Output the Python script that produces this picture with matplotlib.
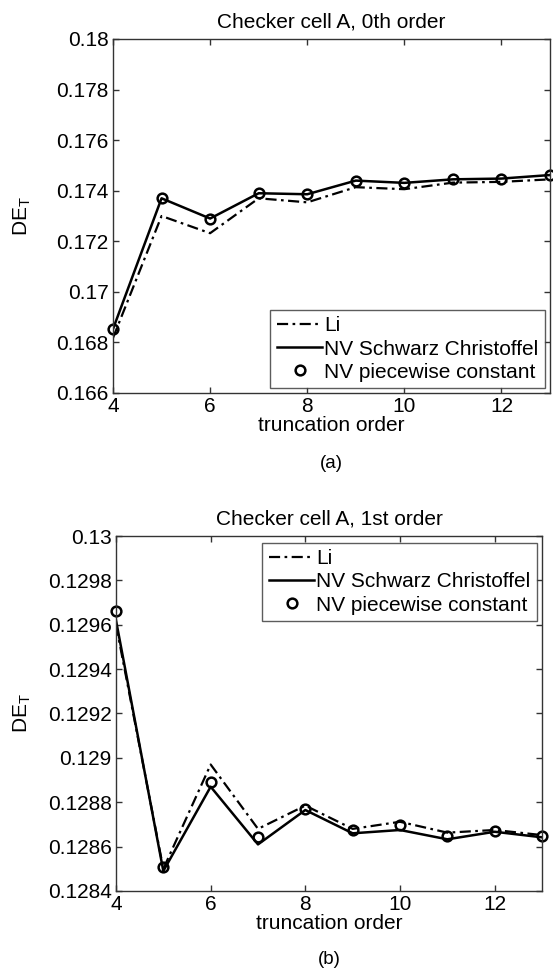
import matplotlib
matplotlib.use("Agg")
import matplotlib.pyplot as plt

plt.rcParams['font.family'] = ['Liberation Sans', 'DejaVu Sans']
plt.rcParams['mathtext.fontset'] = 'custom'
plt.rcParams['mathtext.rm'] = 'Liberation Sans'
plt.rcParams['mathtext.it'] = 'Liberation Sans'

orders = [4, 5, 6, 7, 8, 9, 10, 11, 12, 13]

# (a) 0th order
li_a = [0.16818, 0.17300, 0.17232, 0.17370, 0.17354, 0.17414, 0.17406, 0.17432, 0.17435, 0.17445]
sc_a = [0.16853, 0.17370, 0.17290, 0.17390, 0.17386, 0.17440, 0.17431, 0.17445, 0.17448, 0.17462]
pc_a = [0.16853, 0.17370, 0.17290, 0.17390, 0.17386, 0.17440, 0.17431, 0.17445, 0.17448, 0.17462]

# (b) 1st order
li_b = [0.12960, 0.12850, 0.12897, 0.12868, 0.128785, 0.12868, 0.128712, 0.128663, 0.128675, 0.128652]
sc_b = [0.12962, 0.12849, 0.12887, 0.12861, 0.128765, 0.12866, 0.128675, 0.128633, 0.128667, 0.128642]
pc_b = [0.129662, 0.12851, 0.128893, 0.128642, 0.12877, 0.128675, 0.128698, 0.128648, 0.128672, 0.128648]

yt_a = [0.166, 0.168, 0.17, 0.172, 0.174, 0.176, 0.178, 0.18]
yl_a = ['0.166', '0.168', '0.17', '0.172', '0.174', '0.176', '0.178', '0.18']
yt_b = [0.1284, 0.1286, 0.1288, 0.129, 0.1292, 0.1294, 0.1296, 0.1298, 0.13]
yl_b = ['0.1284', '0.1286', '0.1288', '0.129', '0.1292', '0.1294', '0.1296', '0.1298', '0.13']
xt = [4, 6, 8, 10, 12]

labels = ['Li', 'NV Schwarz Christoffel', 'NV piecewise constant']
titles = ['Checker cell A, 0th order', 'Checker cell A, 1st order']

FS = 15
W, H = 553, 973
fig = plt.figure(figsize=(W / 100, H / 100), dpi=100)

def box(l, t, r, b):
    return [l / W, 1 - b / H, (r - l) / W, (b - t) / H]

ax_a = fig.add_axes(box(113, 39, 550, 393))
ax_b = fig.add_axes(box(116, 536, 542, 891))

def draw(ax, li, sc, pc, yt, yl, title, loc, anchor, ylab_x):
    ax.plot(orders, li, color='black', lw=1.6, ls=(0, (5, 2, 1.2, 2)), label=labels[0])
    ax.plot(orders, sc, color='black', lw=1.8, ls='-', label=labels[1])
    ax.plot(orders, pc, ls='none', marker='o', ms=7, mfc='none', mec='black', mew=1.8,
            label=labels[2], clip_on=False)
    ax.set_xlim(4, 13)
    ax.set_ylim(yt[0], yt[-1])
    ax.set_xticks(xt)
    ax.set_xticklabels([str(v) for v in xt])
    ax.set_yticks(yt)
    ax.set_yticklabels(yl)
    ax.tick_params(direction='in', top=True, right=True, length=4, width=1,
                   labelsize=FS, color='#333333', pad=3)
    for s in ax.spines.values():
        s.set_color('#333333')
        s.set_linewidth(1.0)
    ax.set_xlabel('truncation order', fontsize=FS, labelpad=0)
    ax.set_ylabel(r'DE$_\mathregular{T}$', fontsize=FS)
    ax.yaxis.set_label_coords(ylab_x, 0.5)
    ax.set_title(title, fontsize=FS, pad=8)
    leg = ax.legend(loc=loc, bbox_to_anchor=anchor, fontsize=FS, frameon=True, fancybox=False,
                    edgecolor='#333333', handlelength=2.2, handletextpad=0.1,
                    labelspacing=0.2, borderpad=0.3, borderaxespad=0.0)
    leg.get_frame().set_linewidth(1.0)

draw(ax_a, li_a, sc_a, pc_a, yt_a, yl_a, titles[0], 'lower right',
     ((545 - 113) / 437, (393 - 388) / 354), (33 - 113) / 437)
draw(ax_b, li_b, sc_b, pc_b, yt_b, yl_b, titles[1], 'upper right',
     ((537 - 116) / 426, (891 - 543) / 355), (33 - 116) / 426)

fig.text(331 / W, 1 - 463 / H, '(a)', fontsize=FS - 1.5, ha='center', va='center')
fig.text(329 / W, 1 - 960 / H, '(b)', fontsize=FS - 1.5, ha='center', va='center')

fig.savefig('out.png', dpi=100)
